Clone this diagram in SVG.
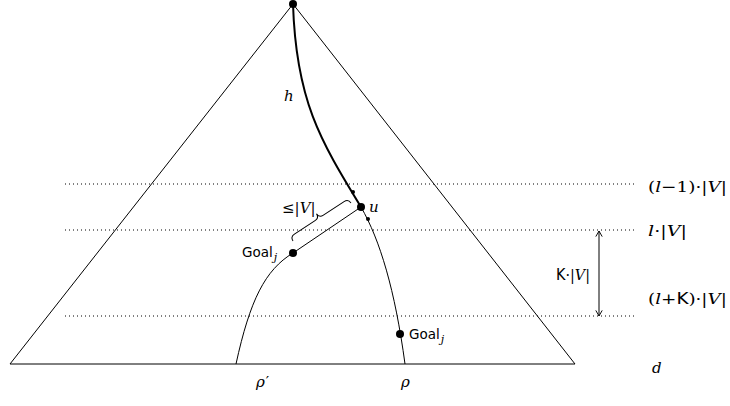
<svg xmlns="http://www.w3.org/2000/svg" width="730" height="406" viewBox="0 0 730 406">
<style>
.ln{fill:none;stroke:#000;stroke-width:1}
.dot{fill:none;stroke:#000;stroke-width:1;stroke-dasharray:1 3}
.m{font-family:"DejaVu Serif","Liberation Serif",serif;font-size:15px;fill:#000}
.i{font-style:italic}
.s{font-family:"DejaVu Sans","Liberation Sans",sans-serif;font-size:13.5px;fill:#000}
.sk{font-family:"DejaVu Sans","Liberation Sans",sans-serif;font-style:normal}
.sub{font-family:"DejaVu Serif","Liberation Serif",serif;font-style:italic;font-size:11px}
</style>
<defs>
<marker id="ah" viewBox="0 0 10 10" refX="9" refY="5" markerWidth="8" markerHeight="8" orient="auto-start-reverse" markerUnits="userSpaceOnUse">
<path d="M2,1 L9,5 L2,9" fill="none" stroke="#000" stroke-width="1.2"/>
</marker>
</defs>
<rect width="730" height="406" fill="#fff"/>
<g id="triangle">
<path class="ln" d="M293,4 L10,364 L575,364 Z"/>
</g>
<g id="levels">
<line class="dot" x1="65" y1="184" x2="635" y2="184"/>
<line class="dot" x1="65" y1="230" x2="635" y2="230"/>
<line class="dot" x1="65" y1="316" x2="635" y2="316"/>
<text class="m" x="648" y="192" textLength="79" lengthAdjust="spacingAndGlyphs">(<tspan class="i">l</tspan>−1)·|<tspan class="i">V</tspan>|</text>
<text class="m" x="648" y="236" textLength="39" lengthAdjust="spacingAndGlyphs"><tspan class="i">l</tspan>·|<tspan class="i">V</tspan>|</text>
<text class="m" x="648" y="304" textLength="79" lengthAdjust="spacingAndGlyphs">(<tspan class="i">l</tspan>+<tspan class="sk">K</tspan>)·|<tspan class="i">V</tspan>|</text>
<text class="m i" x="652" y="373">d</text>
</g>
<g id="connectors">
<path d="M293,4 C296,100 320,140 361,207" fill="none" stroke="#000" stroke-width="2"/>
<path class="ln" d="M361,207 C380,240 395,290 405,364"/>
<path class="ln" d="M361,207 L293,253"/>
<path class="ln" d="M293,253 C265,270 250,300 236,364"/>
<line class="ln" x1="599" y1="231" x2="599" y2="316" marker-start="url(#ah)" marker-end="url(#ah)"/>
<path class="ln" transform="translate(293,241) rotate(-33.2)" d="M0,0 Q0,-5 5,-5 L29.6,-5 Q34.6,-5 34.6,-10 Q34.6,-5 39.6,-5 L64.3,-5 Q69.3,-5 69.3,0"/>
</g>
<g id="root"><circle cx="293" cy="4" r="4"/></g>
<g id="h"><text class="m i" x="284" y="101">h</text></g>
<g id="u"><circle cx="361" cy="207" r="4"/><text class="m i" x="369" y="212">u</text></g>
<g id="smalldots"><circle cx="353" cy="192" r="2"/><circle cx="368" cy="219" r="2"/></g>
<g id="goal1"><circle cx="293" cy="253" r="4"/><text class="s" x="242" y="257">Goal<tspan class="sub" dx="1" dy="4">j</tspan></text></g>
<g id="goal2"><circle cx="400" cy="334" r="4"/><text class="s" x="409" y="339">Goal<tspan class="sub" dx="1" dy="4">j</tspan></text></g>
<g id="brace-label"><text class="m" x="282" y="213">≤|<tspan class="i">V</tspan>|</text></g>
<g id="k-label"><text class="m" x="556" y="280" textLength="34" lengthAdjust="spacingAndGlyphs"><tspan class="sk">K</tspan>·|<tspan class="i">V</tspan>|</text></g>
<g id="rho"><text class="m i" x="256" y="387">ρ<tspan font-style="normal" dx="1">′</tspan></text><text class="m i" x="401" y="387">ρ</text></g>
</svg>
